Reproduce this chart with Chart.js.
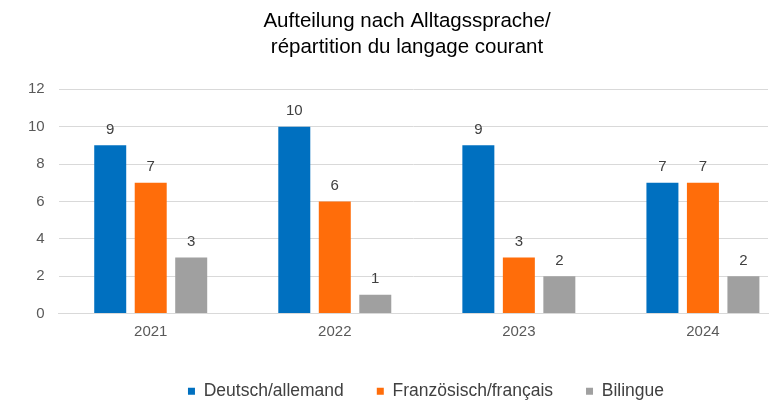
<!DOCTYPE html>
<html>
<head>
<meta charset="utf-8">
<script src="https://cdn.jsdelivr.net/npm/chart.js@4"></script>
<style>
  html, body { margin: 0; padding: 0; background: #fff; }
  #wrap { width: 774px; height: 401px; }
</style>
</head>
<body>
<div id="wrap"><canvas id="chart"></canvas></div>
<script>
const years = ['2021', '2022', '2023', '2024'];
const deutsch = [9, 10, 9, 7];
const francais = [7, 6, 3, 7];
const bilingue = [3, 1, 2, 2];
const seriesNames = ['Deutsch/allemand', 'Französisch/français', 'Bilingue'];
const yTicks = [0, 2, 4, 6, 8, 10, 12];

const FONT = '"Liberation Sans", Arial, sans-serif';

// Werte über den Balken zeichnen
const valueLabels = {
    id: 'valueLabels',
    afterLayout(chart) {
        // Titel und Legende etwas nach rechts, wie im Original
        if (chart.titleBlock) {
            chart.titleBlock.left += 16;
            chart.titleBlock.right += 16;
        }
        if (chart.legend) {
            chart.legend.left += 35;
            chart.legend.right += 35;
        }
        // im Original reichen die Kategorien etwas über den rechten Rand hinaus
        chart.scales.x._length *= 1.038;
    },
    afterDatasetsDraw(chart) {
        const ctx = chart.ctx;
        ctx.save();
        ctx.font = '15px ' + FONT;
        ctx.fillStyle = '#404040';
        ctx.textAlign = 'center';
        ctx.textBaseline = 'bottom';
        chart.data.datasets.forEach((ds, i) => {
            chart.getDatasetMeta(i).data.forEach((bar, j) => {
                ctx.fillText(ds.data[j], bar.x, bar.y - 8);
            });
        });
        ctx.restore();
    }
};

new Chart(document.getElementById('chart'), {
    type: 'bar',
    data: {
        labels: years,
        datasets: [
            { label: seriesNames[0], data: deutsch, backgroundColor: '#0070c0' },
            { label: seriesNames[1], data: francais, backgroundColor: '#ff6d0a' },
            { label: seriesNames[2], data: bilingue, backgroundColor: '#a0a0a0' }
        ]
    },
    options: {
        responsive: true,
        maintainAspectRatio: false,
        animation: false,
        datasets: { bar: { categoryPercentage: 0.66, barPercentage: 0.79 } },
        layout: { padding: { left: 14, right: 6, top: 0, bottom: -9 } },
        plugins: {
            title: {
                display: true,
                text: ['Aufteilung nach Alltagssprache/', 'répartition du langage courant'],
                color: '#000',
                font: { family: FONT, size: 20.5, weight: 'normal', lineHeight: 1.25 },
                padding: { top: 9, bottom: 29 }
            },
            legend: {
                position: 'bottom',
                labels: {
                    color: '#404040',
                    font: { family: FONT, size: 17.5 },
                    boxWidth: 7,
                    boxHeight: 7,
                    padding: 33
                }
            },
            tooltip: { enabled: false }
        },
        scales: {
            x: {
                grid: { display: false, drawTicks: false },
                border: { color: '#d9d9d9' },
                ticks: { color: '#595959', padding: 9, font: { family: FONT, size: 15, lineHeight: 1.2 } }
            },
            y: {
                min: 0,
                max: 12,
                afterBuildTicks: (axis) => { axis.ticks = yTicks.map(v => ({ value: v })); },
                grid: { color: '#d9d9d9', drawTicks: false },
                border: { display: false },
                ticks: { color: '#595959', padding: 14, font: { family: FONT, size: 15 } }
            }
        }
    },
    plugins: [valueLabels]
});
</script>
</body>
</html>
